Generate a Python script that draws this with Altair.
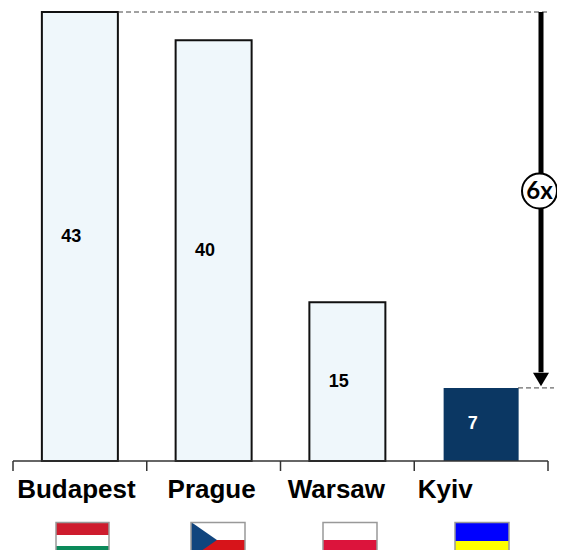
import altair as alt
import pandas as pd

cities = ["Budapest", "Prague", "Warsaw", "Kyiv"]
values = [43, 40.3, 15.2, 7]
value_labels = ["43", "40", "15", "7"]
label_fill = ["#000000", "#000000", "#000000", "#ffffff"]
ratio_label = "6x"

df = pd.DataFrame({"city": cities, "value": values, "label": value_labels, "lab": label_fill})
df["mid"] = df["value"] / 2

x_scale = alt.Scale(domain=cities, range=[5, 540], paddingInner=0, paddingOuter=0)
y_scale = alt.Scale(domain=[0, 43], range=[453, 4])
X = alt.X("city:N", scale=x_scale, axis=None, sort=cities)
Y = alt.Y("value:Q", scale=y_scale, axis=None)

AXIS = "#333333"
FONT = "Liberation Sans"

bars_light = alt.Chart(df[df.city != "Kyiv"]).mark_bar(
    width=76, stroke="#111111", strokeWidth=2, fill="#eff7fb").encode(x=X, y=Y)
bars_dark = alt.Chart(df[df.city == "Kyiv"]).mark_bar(
    width=75, fill="#0b3763").encode(x=X, y=Y)

num_text = alt.Chart(df).mark_text(font=FONT, fontWeight="bold", fontSize=18, dx=-8.5, baseline="middle").encode(
    x=X, y=alt.Y("mid:Q", scale=y_scale, axis=None),
    text="label:N", color=alt.Color("lab:N", scale=None))

baseline = alt.Chart(pd.DataFrame({"a": [0]})).mark_rule(color=AXIS, strokeWidth=1.5).encode(
    x=alt.value(5), x2=alt.value(540), y=alt.value(453))
ticks_l = alt.Chart(df).mark_rule(color=AXIS, strokeWidth=1.5).encode(
    x=alt.X("city:N", scale=x_scale, axis=None, sort=cities, bandPosition=0),
    y=alt.value(453), y2=alt.value(463))
ticks_r = alt.Chart(df[df.city == "Kyiv"]).mark_rule(color=AXIS, strokeWidth=1.5).encode(
    x=alt.X("city:N", scale=x_scale, axis=None, sort=cities, bandPosition=1),
    y=alt.value(453), y2=alt.value(463))

city_dx = [-3.5, -2, -11, -36]
city_layers = [
    alt.Chart(df[df.city == c]).mark_text(font=FONT, fontWeight="bold", fontSize=26, dx=d, color="#000000", baseline="middle").encode(
        x=X, y=alt.value(482), text="city:N")
    for c, d in zip(cities, city_dx)
]

# dashed guides and arrow
guide = pd.DataFrame({"value": [43, 7]})
dash_top = alt.Chart(guide[guide.value == 43]).mark_rule(color="#444444", strokeWidth=1, strokeDash=[5, 3]).encode(
    x=alt.value(110), x2=alt.value(540), y=Y)
dash_bot = alt.Chart(guide[guide.value == 7]).mark_rule(color="#444444", strokeWidth=1, strokeDash=[5, 3]).encode(
    x=alt.value(510), x2=alt.value(546), y=Y)
arrow_df = pd.DataFrame({"value": [43], "end": [8.5]})
arrow = alt.Chart(arrow_df).mark_rule(color="#000000", strokeWidth=5).encode(
    x=alt.value(533), y=Y, y2="end:Q")
head = alt.Chart(guide[guide.value == 7]).mark_point(
    shape="M-1,-1.9L1,-1.9L0,-0.2Z", size=256, filled=True, color="#000000", opacity=1).encode(
    x=alt.value(533), y=Y)
circle = alt.Chart(pd.DataFrame({"a": [0]})).mark_point(
    shape="circle", size=1225, filled=True, fill="#ffffff", stroke="#000000", strokeWidth=2, opacity=1).encode(
    x=alt.value(531.5), y=alt.value(183))
circle_text = alt.Chart(pd.DataFrame({"t": [ratio_label]})).mark_text(
    font="Lato", fontWeight="bold", fontSize=24, baseline="middle", color="#000000").encode(
    x=alt.value(531.5), y=alt.value(184), text="t:N")

# flags
def stripe(x0, x1, y0, y1, color):
    return alt.Chart(pd.DataFrame({"a": [0]})).mark_rect(color=color).encode(
        x=alt.value(x0), x2=alt.value(x1), y=alt.value(y0), y2=alt.value(y1))

def border(x0, x1, y0, y1):
    return alt.Chart(pd.DataFrame({"a": [0]})).mark_rect(fill=None, stroke="#999999", strokeWidth=1.5).encode(
        x=alt.value(x0), x2=alt.value(x1), y=alt.value(y0), y2=alt.value(y1))

T, B = 514.5, 556
flags = []
# Hungary
flags += [stripe(48, 101, T, 527, "#ce1c2e"), stripe(48, 101, 527, 538, "#ffffff"), stripe(48, 101, 538, B, "#0b8a5a"), border(48, 101, T, B)]
# Czech
flags += [stripe(183, 237, T, 532, "#ffffff"), stripe(183, 237, 532, B, "#d7141a")]
tri = alt.Chart(pd.DataFrame({"a": [0]})).mark_point(
    shape="M-0.72,-1L0.72,0L-0.72,1Z", filled=True, color="#11457e", opacity=1, size=1296).encode(
    x=alt.value(196), y=alt.value(532))
flags += [tri, border(183, 237, T, B)]
# Poland
flags += [stripe(315, 369, T, 532, "#ffffff"), stripe(315, 369, 532, B, "#dc143c"), border(315, 369, T, B)]
# Ukraine
flags += [stripe(447, 501, T, 533, "#0000ff"), stripe(447, 501, 533, B, "#ffff00"), border(447, 501, T, B)]

chart = alt.layer(
    bars_light, bars_dark, num_text, baseline, ticks_l, ticks_r, *city_layers,
    dash_top, dash_bot, arrow, head, circle, circle_text, *flags
).resolve_scale(color="independent").properties(
    width=549, height=542, padding=0, autosize=alt.AutoSizeParams(type="none")
).configure_view(stroke=None)

chart.save("out.html", embed_options={"renderer": "svg", "actions": False})
